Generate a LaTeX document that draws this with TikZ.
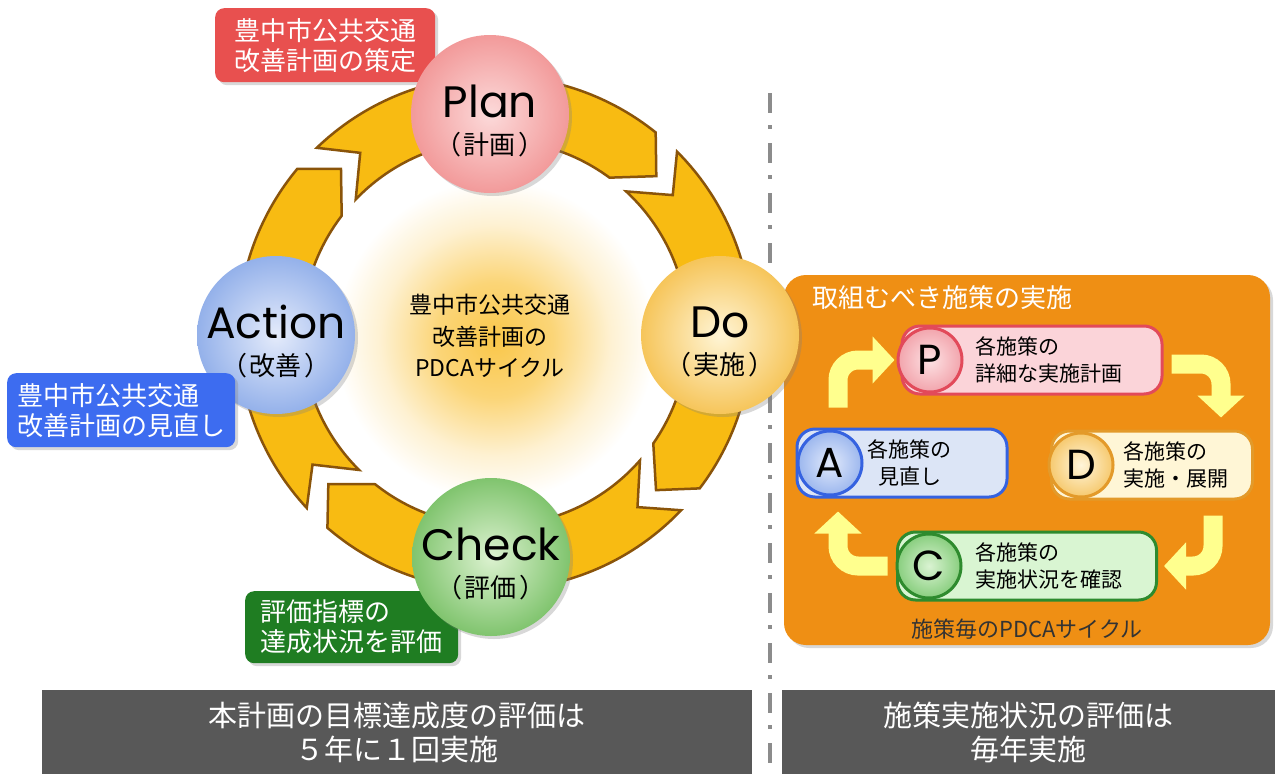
\documentclass[tikz,border=0pt]{standalone}
\usepackage{fontspec}
\setmainfont{Noto Sans CJK JP}
\newfontfamily\latinfont{Poppins}
\usepackage{tikz}
\usetikzlibrary{positioning,arrows.meta,calc,shadows}
\definecolor{ringfill}{HTML}{F8BB12}
\definecolor{ringline}{HTML}{8A540A}
\definecolor{tagred}{HTML}{E8504F}
\definecolor{tagblue}{HTML}{3D6CF0}
\definecolor{taggreen}{HTML}{1F7D22}
\definecolor{panelorange}{HTML}{EF8F14}
\definecolor{bargray}{HTML}{585858}
\definecolor{divgray}{HTML}{8C8C8C}
\definecolor{glowyel}{HTML}{FAC74A}
\definecolor{arrowyel}{HTML}{FFFF8E}
\definecolor{planin}{HTML}{FCDADA}
\definecolor{planout}{HTML}{F29A9A}
\definecolor{doin}{HTML}{FFF5D6}
\definecolor{doout}{HTML}{F6C55A}
\definecolor{checkin}{HTML}{DCF2D0}
\definecolor{checkout}{HTML}{80C46E}
\definecolor{actin}{HTML}{E4EBFB}
\definecolor{actout}{HTML}{94B1EA}
\definecolor{pinkfill}{HTML}{FBD4D9}
\definecolor{pinkline}{HTML}{E24A5A}
\definecolor{pinkin}{HTML}{FDE2E4}
\definecolor{pinkout}{HTML}{F2A4AC}
\definecolor{bluefill}{HTML}{DCE5F6}
\definecolor{blueline}{HTML}{3562E0}
\definecolor{bluein}{HTML}{E2EAFB}
\definecolor{blueout}{HTML}{9CB7EE}
\definecolor{creamfill}{HTML}{FFF6D6}
\definecolor{creamline}{HTML}{E39A2A}
\definecolor{creamin}{HTML}{FFF5DA}
\definecolor{creamout}{HTML}{F6C96E}
\definecolor{greenfill}{HTML}{D9F5D2}
\definecolor{greenline}{HTML}{2E8B2E}
\definecolor{greenin}{HTML}{DAF3D2}
\definecolor{greenout}{HTML}{88CE7E}
\newcommand{\ringout}{257}
\newcommand{\ringin}{193}
\newcommand{\ringmid}{225}
\newcommand{\gapang}{6.4}
\newcommand{\tipout}{7.1}
\newcommand{\tipin}{9.4}
% one chevron piece of the ring, from junction #1 down to junction #2 (clockwise)
\newcommand{\ringpart}[2]{%
  \pgfmathsetmacro{\tailo}{#1-\gapang/2+\tipout}%
  \pgfmathsetmacro{\taili}{#1-\gapang/2+\tipin}%
  \pgfmathsetmacro{\notch}{#1-\gapang/2}%
  \pgfmathsetmacro{\apex}{#2+\gapang/2}%
  \pgfmathsetmacro{\backo}{#2+\gapang/2+\tipout}%
  \pgfmathsetmacro{\backi}{#2+\gapang/2+\tipin}%
  \draw[band] (\tailo:\ringout) arc[start angle=\tailo,end angle=\backo,radius=\ringout]
    -- (\apex:\ringmid) -- (\backi:\ringin)
    arc[start angle=\backi,end angle=\taili,radius=\ringin]
    -- (\notch:\ringmid) -- cycle;}
\pgfdeclareradialshading{glowshade}{\pgfpointorigin}{color(0bp)=(glowyel); color(9bp)=(glowyel!75!white); color(18bp)=(glowyel!25!white); color(25bp)=(white); color(50bp)=(white)}
\tikzset{
  band/.style={fill=ringfill,draw=ringline,line width=2.5pt,line join=miter},
  ball/.style={circle,minimum size=158pt,inner sep=0pt,shading=radial,
               drop shadow={shadow xshift=3pt,shadow yshift=-3pt,opacity=.3}},
  stagetext/.style={align=center,inner sep=0pt,yshift=-7pt,font=\fontsize{26}{28}\selectfont},
  tag/.style={rounded corners=9pt,text=white,align=left,anchor=north west,inner xsep=10pt,
              font=\fontsize{26}{30}\selectfont,
              drop shadow={shadow xshift=3pt,shadow yshift=-3pt,opacity=.3}},
  pill/.style={rounded corners=18pt,line width=3pt,minimum height=68pt},
  dot/.style={circle,minimum size=64pt,inner sep=0pt,line width=3pt,shading=radial,
              font=\latinfont\fontsize{42}{42}\selectfont},
  ptext/.style={align=left,inner sep=0pt,font=\fontsize{21}{27}\selectfont},
  yarr/.style={draw=arrowyel,line width=19pt,rounded corners=20pt,
               -{Triangle[width=46pt,length=22pt]}},
  bar/.style={fill=bargray,text=white,align=center,minimum height=84pt,
              font=\fontsize{29}{34}\selectfont}
}
\newcommand{\stage}[2]{{\latinfont\fontsize{44}{44}\selectfont #1}\\[9pt]（\hspace{3pt}#2\hspace{3pt}）}

\begin{document}
\begin{tikzpicture}[x=1pt,y=-1pt]
  \fill[white] (0,0) rectangle (1275,774);
  \useasboundingbox (0,0) rectangle (1275,774);
  % glow and ring
  \fill[shading=glowshade] (335,180) rectangle (655,500);
  \draw[divgray,line width=4pt,dash pattern=on 20pt off 12pt on 4pt off 14pt] (770,93) -- (770,774);
  \begin{scope}[shift={(495,333)},x=1pt,y=1pt]
    \ringpart{130}{41}
    \ringpart{41}{-47.5}
    \ringpart{-47.5}{-141}
    \ringpart{-141}{-230}
  \end{scope}
  \node[font=\fontsize{23}{31.5}\selectfont,align=center] (cycle) at (490,336)
    {豊中市公共交通\\改善計画の\\PDCAサイクル};
  % labels
  \node[tag,fill=tagred,minimum width=220pt,minimum height=74pt] (tplan) at (215,8)
    {豊中市公共交通\\改善計画の策定};
  \node[tag,fill=taggreen,minimum width=213pt,minimum height=72pt] (tcheck) at (245,591)
    {評価指標の\\達成状況を評価};
  % right panel
  \fill[panelorange,rounded corners=22pt,drop shadow={shadow xshift=3pt,shadow yshift=-3pt,opacity=.3}]
    (784,275) rectangle (1270,645);
  \node[anchor=west,text=white,font=\fontsize{26}{30}\selectfont] (ptitle) at (809,298) {取組むべき施策の実施};
  % main stages
  \node[ball,inner color=planin,outer color=planout] (plan) at (490,114) {};
  \node[ball,inner color=doin,outer color=doout] (do) at (720,335) {};
  \node[ball,inner color=checkin,outer color=checkout] (check) at (491,557) {};
  \node[ball,inner color=actin,outer color=actout] (action) at (276,335) {};
  \node[stagetext] (plant) at (plan) {\stage{Plan}{計画}};
  \node[stagetext] (dot) at (do) {\stage{Do}{実施}};
  \node[stagetext] (checkt) at (check) {\stage{Check}{評価}};
  \node[stagetext] (actiont) at (action) {\stage{Action}{改善}};
  \node[tag,fill=tagblue,minimum width=228pt,minimum height=74pt,inner xsep=8pt] (taction) at (7,373)
    {豊中市公共交通\\改善計画の見直し};
  % small cycle
  \node[pill,fill=pinkfill,draw=pinkline,minimum width=260pt] (pP) at (1032,360) {};
  \node[pill,fill=bluefill,draw=blueline,minimum width=210pt] (pA) at (902,463) {};
  \node[pill,fill=creamfill,draw=creamline,minimum width=201pt] (pD) at (1152,465) {};
  \node[pill,fill=greenfill,draw=greenline,minimum width=259pt] (pC) at (1027,566) {};
  \node[dot,draw=pinkline,inner color=pinkin,outer color=pinkout] (cP) at (930,360) {P};
  \node[dot,draw=blueline,inner color=bluein,outer color=blueout] (cA) at (830,463) {A};
  \node[dot,draw=creamline,inner color=creamin,outer color=creamout] (cD) at (1081,465) {D};
  \node[dot,draw=greenline,inner color=greenin,outer color=greenout] (cC) at (929,566) {C};
  \node[ptext,right=12pt of cP] (xP) {各施策の\\詳細な実施計画};
  \node[ptext,align=center,right=4pt of cA] (xA) {各施策の\\見直し};
  \node[ptext,right=9pt of cD] (xD) {各施策の\\実施・展開};
  \node[ptext,right=13pt of cC] (xC) {各施策の\\実施状況を確認};
  \node[inner sep=0pt,text=black!80,font=\fontsize{22}{26}\selectfont,below=17pt of pC] (pcap) {施策毎のPDCAサイクル};
  \draw[yarr] ([xshift=8pt,yshift=22pt]cA.north) |- ([xshift=-2pt]cP.west);
  \draw[yarr] ([xshift=8pt,yshift=-4pt]pP.east) -| ([xshift=-33pt,yshift=12pt]pD.north east);
  \draw[yarr] ([xshift=-41pt,yshift=-15pt]pD.south east) |- ([xshift=6pt]pC.east);
  \draw[yarr] ([xshift=-8pt]cC.west) -| ([xshift=8pt,yshift=-15pt]cA.south);
  % bottom bars
  \node[bar,minimum width=710pt] (lbar) at (397,732) {本計画の目標達成度の評価は\\５年に１回実施};
  \node[bar,minimum width=493pt] (rbar) at (1028.5,732) {施策実施状況の評価は\\毎年実施};
\end{tikzpicture}
\end{document}
